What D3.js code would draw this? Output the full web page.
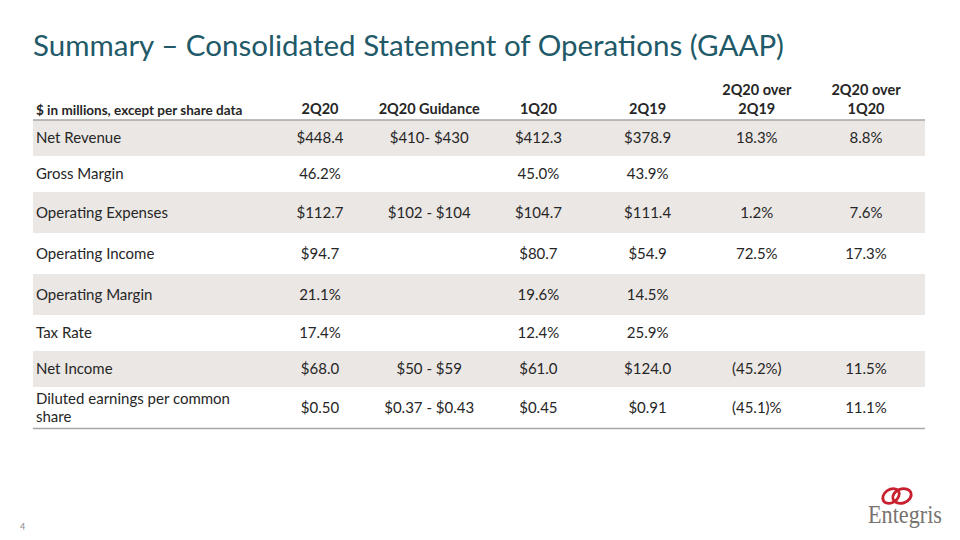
<!DOCTYPE html>
<html><head><meta charset="utf-8">
<script src="https://cdn.jsdelivr.net/npm/d3@7"></script>
<style>
html,body{margin:0;padding:0;background:#fff;}
svg{display:block;}
</style></head>
<body>
<svg id="c" width="960" height="540"></svg>
<script>
// ---- data ----
const title = "Summary \u2013 Consolidated Statement of Operations (GAAP)";
const stubHeader = "$ in millions, except per share data";
const columns = ["2Q20", "2Q20 Guidance", "1Q20", "2Q19", "2Q20 over\n2Q19", "2Q20 over\n1Q20"];
const rowLabels = ["Net Revenue", "Gross Margin", "Operating Expenses", "Operating Income", "Operating Margin", "Tax Rate", "Net Income", "Diluted earnings per common\nshare"];
const q2_20    = ["$448.4", "46.2%", "$112.7", "$94.7", "21.1%", "17.4%", "$68.0", "$0.50"];
const guidance = ["$410- $430", "", "$102 - $104", "", "", "", "$50 - $59", "$0.37 - $0.43"];
const q1_20    = ["$412.3", "45.0%", "$104.7", "$80.7", "19.6%", "12.4%", "$61.0", "$0.45"];
const q2_19    = ["$378.9", "43.9%", "$111.4", "$54.9", "14.5%", "25.9%", "$124.0", "$0.91"];
const over2Q19 = ["18.3%", "", "1.2%", "72.5%", "", "", "(45.2%)", "(45.1)%"];
const over1Q20 = ["8.8%", "", "7.6%", "17.3%", "", "", "11.5%", "11.1%"];
const pageNumber = "4";

// ---- layout ----
const seriesCols = [q2_20, guidance, q1_20, q2_19, over2Q19, over1Q20];
const rowHeights = [36, 36, 41, 41, 41, 36, 36, 41];
const font = "Lato, 'Open Sans', sans-serif";
const bodySize = 15;
const svg = d3.select("#c");

const tableLeft = 33, tableRight = 925, tableTop = 120;
const x = d3.scalePoint().domain(columns).range([320, 866]);
const rowTops = [];
rowHeights.reduce((acc, h) => { rowTops.push(acc); return acc + h; }, tableTop);
const y = d3.scaleOrdinal().domain(rowLabels).range(rowTops);
const hOf = d3.scaleOrdinal().domain(rowLabels).range(rowHeights);
const tableBottom = tableTop + d3.sum(rowHeights);

// title
svg.append("text").attr("x", 33).attr("y", 56)
  .attr("font-family", font).attr("font-size", 29.5).attr("fill", "#215968")
  .attr("textLength", 751).attr("lengthAdjust", "spacingAndGlyphs")
  .text(title);

// row shading
const rows = svg.append("g").selectAll("g").data(rowLabels).join("g")
  .attr("transform", d => `translate(0,${y(d)})`);
rows.append("rect").attr("x", tableLeft).attr("width", tableRight - tableLeft)
  .attr("height", d => hOf(d))
  .attr("fill", (d, i) => i % 2 === 0 ? "#ebe7e4" : "#ffffff");

// row labels
rows.append("text").attr("font-family", font).attr("font-size", bodySize).attr("fill", "#262626")
  .each(function (d) {
    const lines = d.split("\n");
    const h = hOf(d);
    const lh = 18;
    const start = h / 2 - (lines.length - 1) * lh / 2 + 5;
    d3.select(this).selectAll("tspan").data(lines).join("tspan")
      .attr("x", 36).attr("y", (l, k) => start + k * lh).text(l => l);
  });

// cell values
rows.each(function (d, i) {
  const g = d3.select(this);
  const h = hOf(d);
  columns.forEach((c, j) => {
    g.append("text").attr("x", x(c)).attr("y", h / 2 + 5)
      .attr("text-anchor", "middle").attr("font-family", font).attr("font-size", bodySize)
      .attr("fill", "#262626").text(seriesCols[j][i]);
  });
});

// header
svg.append("text").attr("x", 36).attr("y", 115).attr("font-family", font)
  .attr("font-size", 13.5).attr("font-weight", "bold").attr("fill", "#262626").text(stubHeader);
svg.append("g").selectAll("text").data(columns).join("text")
  .attr("text-anchor", "middle").attr("font-family", font).attr("font-size", 14.5)
  .attr("font-weight", "bold").attr("fill", "#262626")
  .each(function (c) {
    const lines = c.split("\n");
    d3.select(this).selectAll("tspan").data(lines).join("tspan")
      .attr("x", x(c)).attr("y", (l, k) => 114 - (lines.length - 1 - k) * 19).text(l => l);
  });

// rules
svg.append("line").attr("x1", tableLeft).attr("x2", tableRight).attr("y1", tableTop).attr("y2", tableTop)
  .attr("stroke", "#a6a6a6").attr("stroke-width", 1.5);
svg.append("line").attr("x1", tableLeft).attr("x2", tableRight).attr("y1", tableBottom + 0.5).attr("y2", tableBottom + 0.5)
  .attr("stroke", "#a6a6a6").attr("stroke-width", 1.5);

// page number
svg.append("text").attr("x", 20).attr("y", 530).attr("font-family", font)
  .attr("font-size", 9).attr("fill", "#8c8c8c").text(pageNumber);

// logo
const logo = svg.append("g").attr("transform", "translate(868,484)");
logo.append("ellipse").attr("cx", 23).attr("cy", 12).attr("rx", 9).attr("ry", 6.5)
  .attr("fill", "none").attr("stroke", "#c8202f").attr("stroke-width", 2.8)
  .attr("transform", "rotate(-35 23 12)");
logo.append("ellipse").attr("cx", 34).attr("cy", 12).attr("rx", 9.5).attr("ry", 7)
  .attr("fill", "none").attr("stroke", "#c8202f").attr("stroke-width", 2.8)
  .attr("transform", "rotate(-20 34 12)");
logo.append("text").attr("x", 0).attr("y", 39).attr("font-family", "'Liberation Serif', 'DejaVu Serif', serif")
  .attr("font-size", 25).attr("fill", "#77726f").attr("textLength", 74).attr("lengthAdjust", "spacingAndGlyphs")
  .text("Entegris");
</script>
</body></html>
